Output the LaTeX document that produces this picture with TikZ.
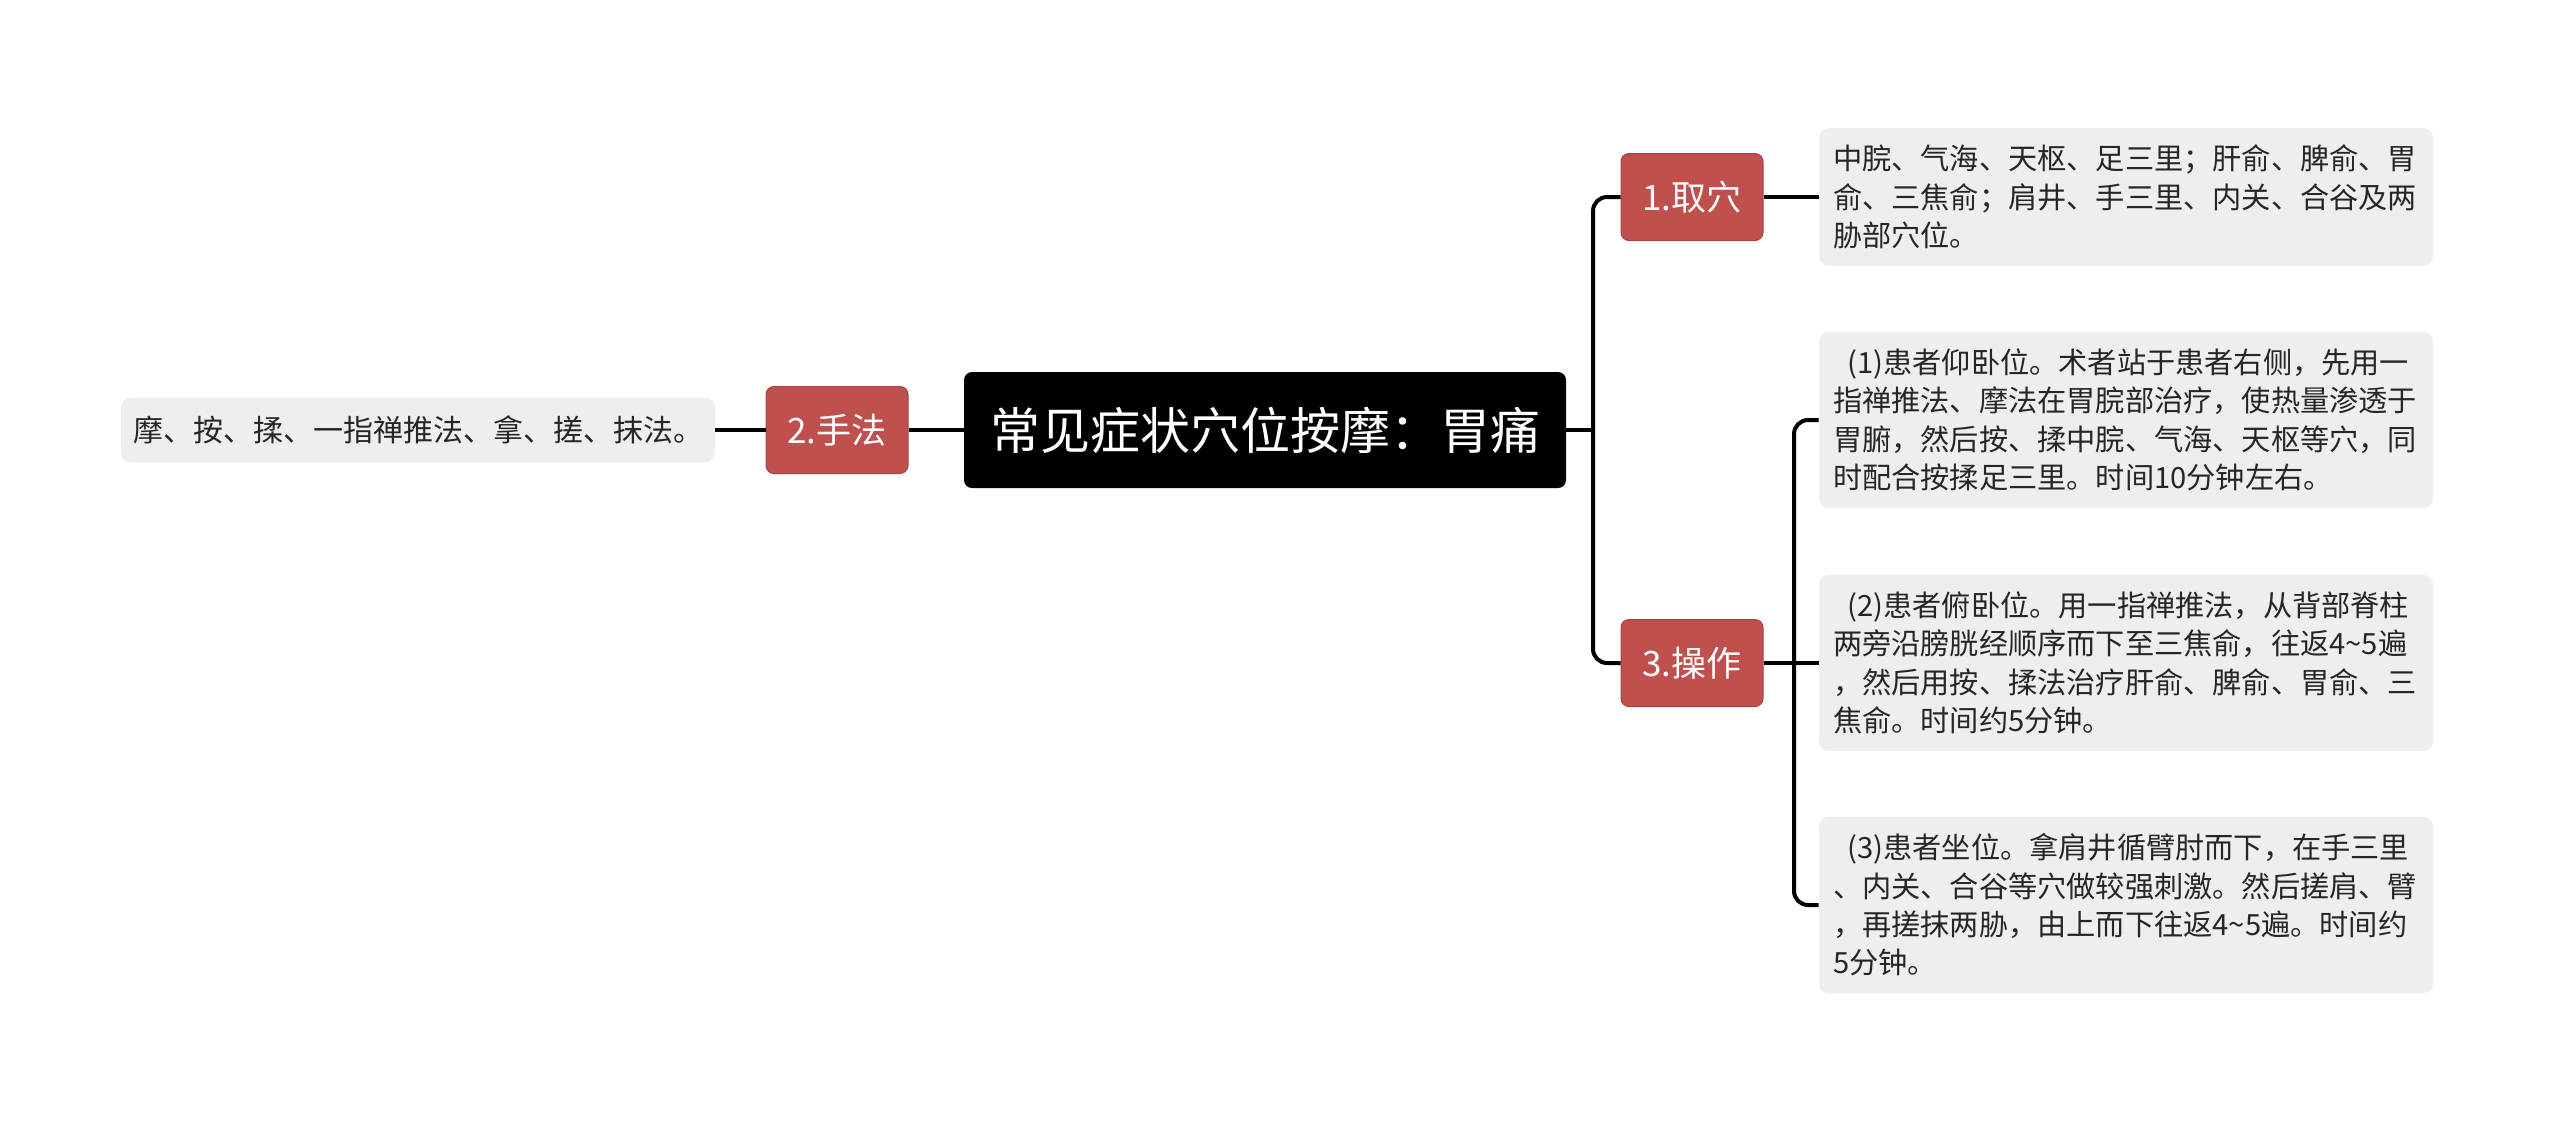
\documentclass[tikz,border=0pt]{standalone}
\usepackage{fontspec}
\setmainfont{Noto Sans CJK SC}
\definecolor{branchred}{HTML}{C0504D}
\definecolor{leafgray}{HTML}{EEEEEE}
\tikzset{
  link/.style={line width=2pt, black},
  rlink/.style={line width=2pt, black, rounded corners=7pt},
  rootbox/.style={fill=black, text=white, rounded corners=4pt, inner xsep=13pt,
                  minimum height=58pt, font=\fontsize{25pt}{30pt}\selectfont},
  branchbox/.style={fill=branchred, draw=branchred!85!black, line width=0.5pt, text=white,
                    rounded corners=4pt, minimum width=71pt, minimum height=43.5pt,
                    font=\fontsize{17.5pt}{21pt}\selectfont},
  leafbox/.style={fill=leafgray, text=black!85, rounded corners=5pt, text width=293pt,
                  align=left, inner xsep=7pt, inner ysep=8.5pt,
                  font=\fontsize{14.6pt}{19.2pt}\selectfont},
  sleafbox/.style={fill=leafgray, text=black!85, rounded corners=5pt, inner xsep=6pt,
                   minimum width=291.5pt, minimum height=32.5pt,
                   font=\fontsize{15pt}{19.2pt}\selectfont}
}

\begin{document}
\begin{tikzpicture}[x=0.5pt, y=-0.5pt]
    \useasboundingbox (0,0) rectangle (2560,1121);

    \node[rootbox] (root) at (1265,430) {常见症状穴位按摩：胃痛};

    \node[branchbox] (qx) at (1692,197) {1.取穴};
    \node[branchbox] (sf) at (837,430) {2.手法};
    \node[branchbox] (cz) at (1692,663) {3.操作};

    \node[sleafbox] (sfleaf) at (418,430) {摩、按、揉、一指禅推法、拿、搓、抹法。};

    \node[leafbox] (qxleaf) at (2126,197) {中脘、气海、天枢、足三里；肝俞、脾俞、胃\\
      俞、三焦俞；肩井、手三里、内关、合谷及两\\
      胁部穴位。};
    \node[leafbox] (czone) at (2126,420) {\hspace*{0.5em}(1)患者仰卧位。术者站于患者右侧，先用一\\
      指禅推法、摩法在胃脘部治疗，使热量渗透于\\
      胃腑，然后按、揉中脘、气海、天枢等穴，同\\
      时配合按揉足三里。时间10分钟左右。};
    \node[leafbox] (cztwo) at (2126,663) {\hspace*{0.5em}(2)患者俯卧位。用一指禅推法，从背部脊柱\\
      两旁沿膀胱经顺序而下至三焦俞，往返4\textasciitilde5遍\\
      ，然后用按、揉法治疗肝俞、脾俞、胃俞、三\\
      焦俞。时间约5分钟。};
    \node[leafbox] (czthree) at (2126,905) {\hspace*{0.5em}(3)患者坐位。拿肩井循臂肘而下，在手三里\\
      、内关、合谷等穴做较强刺激。然后搓肩、臂\\
      ，再搓抹两胁，由上而下往返4\textasciitilde5遍。时间约\\
      5分钟。};

    % junctions
    \coordinate (rootjoin) at (1593,430);
    \coordinate (czjoin) at (1794,663);

    \draw[link] (root.east) -- (rootjoin);
    \draw[rlink] (rootjoin) |- (qx.west);
    \draw[rlink] (rootjoin) |- (cz.west);
    \draw[link] (root.west) -- (sf.east);
    \draw[link] (sf.west) -- (sfleaf.east);

    \draw[link] (qx.east) -- (qxleaf.west);
    \draw[link] (cz.east) -- (cztwo.west);
    \draw[rlink] (czjoin) |- (czone.west);
    \draw[rlink] (czjoin) |- (czthree.west);
\end{tikzpicture}
\end{document}
